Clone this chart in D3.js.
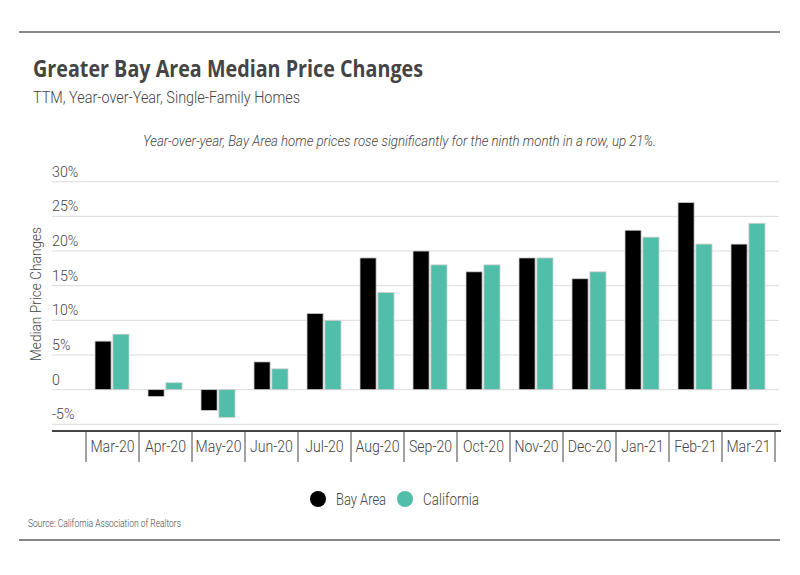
<!DOCTYPE html>
<html>
<head>
<meta charset="utf-8">
<script src="https://cdn.jsdelivr.net/npm/d3@7"></script>
<style>
  body { margin: 0; background: #fff; }
  svg { display: block; }
  text { font-family: "Roboto", "Liberation Sans", sans-serif; fill: #444; font-weight: 300; }
</style>
</head>
<body>
<div id="chart"></div>
<script>
// data
const months = ["Mar-20", "Apr-20", "May-20", "Jun-20", "Jul-20", "Aug-20", "Sep-20",
  "Oct-20", "Nov-20", "Dec-20", "Jan-21", "Feb-21", "Mar-21"];
const bayArea = [7, -1, -3, 4, 11, 19, 20, 17, 19, 16, 23, 27, 21];
const california = [8, 1, -4, 3, 10, 14, 18, 18, 19, 17, 22, 21, 24];
const seriesNames = ["Bay Area", "California"];
const yTicks = [-5, 0, 5, 10, 15, 20, 25, 30];

const width = 800, height = 575;
const colors = ["#000000", "#51bea9"];

// the original uses a narrow face; squeeze our glyphs to the same widths
function fit(sel, w) {
  sel.attr("textLength", w).attr("lengthAdjust", "spacingAndGlyphs");
}
function squeeze(sel, k) {
  sel.each(function () {
    const w = this.getComputedTextLength();
    d3.select(this).attr("textLength", w * k).attr("lengthAdjust", "spacingAndGlyphs");
  });
}

const svg = d3.select("#chart").append("svg")
  .attr("width", width)
  .attr("height", height);

// frame lines
svg.append("line").attr("x1", 19).attr("x2", 780).attr("y1", 32).attr("y2", 32)
  .attr("stroke", "#111").attr("stroke-width", 1);
svg.append("line").attr("x1", 19).attr("x2", 780).attr("y1", 540).attr("y2", 540)
  .attr("stroke", "#111").attr("stroke-width", 1);

// titles
svg.append("text").attr("x", 33).attr("y", 77)
  .style("font-family", "'Open Sans', sans-serif")
  .style("font-weight", "bold").style("font-size", "23px")
  .text("Greater Bay Area Median Price Changes")
  .call(fit, 390);
svg.append("text").attr("x", 33).attr("y", 103)
  .style("font-size", "16.5px")
  .text("TTM, Year-over-Year, Single-Family Homes")
  .call(fit, 267);
svg.append("text").attr("x", 143).attr("y", 146)
  .style("font-size", "14.5px").style("font-style", "italic")
  .text("Year-over-year, Bay Area home prices rose significantly for the ninth month in a row, up 21%.")
  .call(fit, 513);

// scales
const y = d3.scaleLinear().domain([-5, 30]).range([424.3, 181.7]);
const x = d3.scaleBand().domain(months).range([86, 775]);
const xSub = d3.scaleBand().domain(seriesNames).range([9, 43]).paddingInner(0.1);

// grid
svg.append("g").selectAll("line")
  .data(yTicks)
  .join("line")
  .attr("x1", 52).attr("x2", 779)
  .attr("y1", d => y(d)).attr("y2", d => y(d))
  .attr("stroke", "#dcdcdc").attr("stroke-width", 1);

// y labels
svg.append("g").selectAll("text")
  .data(yTicks)
  .join("text")
  .attr("x", 52)
  .attr("y", d => y(d) - 5)
  .style("font-size", "15px")
  .text(d => d === 0 ? "0" : d + "%")
  .call(squeeze, 0.95);

// y axis title
svg.append("text")
  .attr("transform", `translate(41,294) rotate(-90)`)
  .attr("text-anchor", "middle")
  .style("font-size", "15.5px")
  .text("Median Price Changes")
  .call(fit, 134);

// bars
const rows = months.map((m, i) => ({ month: m, values: [bayArea[i], california[i]] }));
const groups = svg.append("g").selectAll("g")
  .data(rows)
  .join("g")
  .attr("transform", d => `translate(${x(d.month)},0)`);
groups.selectAll("rect")
  .data(d => d.values.map((v, j) => ({ name: seriesNames[j], v, j })))
  .join("rect")
  .attr("x", d => xSub(d.name))
  .attr("width", xSub.bandwidth())
  .attr("y", d => y(Math.max(0, d.v)))
  .attr("height", d => Math.abs(y(d.v) - y(0)))
  .attr("fill", d => colors[d.j])
  .attr("stroke", "#cfcfcf")
  .attr("stroke-width", 0.8);

// x axis
const xAxis = svg.append("g").attr("transform", "translate(0,431)");
xAxis.append("line").attr("x1", 52).attr("x2", 781).attr("y1", 0).attr("y2", 0)
  .attr("stroke", "#444").attr("stroke-width", 2);
xAxis.selectAll("line.div")
  .data(months.concat(["end"]))
  .join("line")
  .attr("class", "div")
  .attr("x1", (d, i) => i < months.length ? x(d) : x.range()[1])
  .attr("x2", (d, i) => i < months.length ? x(d) : x.range()[1])
  .attr("y1", 0).attr("y2", 31)
  .attr("stroke", "#444").attr("stroke-width", 1);
xAxis.selectAll("text")
  .data(months)
  .join("text")
  .attr("x", d => x(d) + x.bandwidth() / 2)
  .attr("y", 21)
  .attr("text-anchor", "middle")
  .style("font-size", "16px")
  .text(d => d)
  .call(squeeze, 0.88);

// legend
const legend = svg.append("g").attr("transform", "translate(318,499)");
const legendX = [0, 87];
const legendW = [50, 56];
seriesNames.forEach((name, i) => {
  legend.append("circle").attr("cx", legendX[i]).attr("cy", 0).attr("r", 8)
    .attr("fill", colors[i]);
  legend.append("text").attr("x", legendX[i] + 18).attr("y", 6)
    .style("font-size", "17px")
    .text(name)
    .call(fit, legendW[i]);
});

// source
svg.append("text").attr("x", 28).attr("y", 527)
  .style("font-size", "10.5px")
  .text("Source:  California Association of Realtors")
  .call(fit, 153);
</script>
</body>
</html>
